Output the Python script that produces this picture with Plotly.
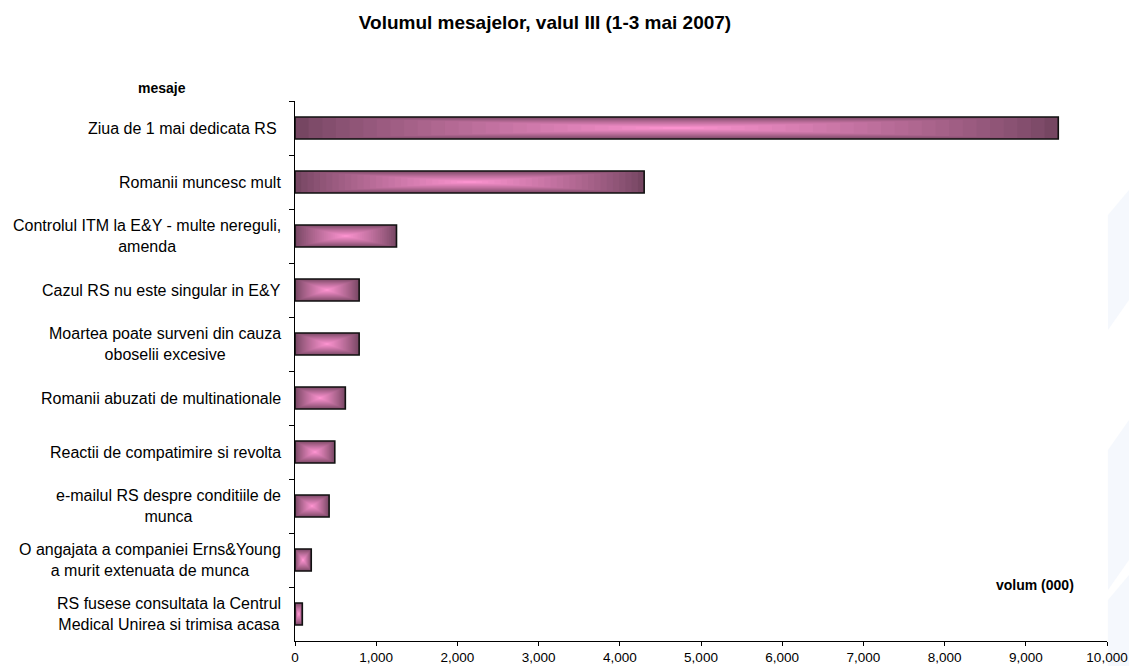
import plotly.graph_objects as go

# Message volume per topic (thousands), top to bottom
categories = [
    "Ziua de 1 mai dedicata RS ",
    "Romanii muncesc mult",
    "Controlul ITM la E&Y - multe nereguli,<br>amenda",
    "Cazul RS nu este singular in E&Y",
    "Moartea poate surveni din cauza<br>oboselii excesive",
    "Romanii abuzati de multinationale",
    "Reactii de compatimire si revolta",
    "e-mailul RS despre conditiile de<br>munca",
    "O angajata a companiei Erns&Young<br>a murit extenuata de munca",
    "RS fusese consultata la Centrul<br>Medical Unirea si trimisa acasa",
]
volumes = [9400, 4300, 1250, 790, 790, 620, 490, 420, 200, 90]

x_ticks = [0, 1000, 2000, 3000, 4000, 5000, 6000, 7000, 8000, 9000, 10000]

W, H = 1129, 666
L, R, T, B = 295, 22, 101, 25
FONT = "Liberation Sans, Arial, sans-serif"
EDGE = (118, 70, 98)
CENTER = (250, 146, 206)
BAR_W = 0.41
N_LAYERS = 28


def px_x(px):
    """Page pixel x -> paper fraction of the plot area."""
    return (px - L) / (W - L - R)


def px_y(py):
    """Page pixel y -> paper fraction of the plot area."""
    return (H - B - py) / (H - T - B)


fig = go.Figure()

# Concentric rectangles give a "from center" gradient fill on every bar
for i in range(N_LAYERS):
    s = 1 - i / N_LAYERS
    t = (i / (N_LAYERS - 1)) ** 0.85
    r, g, b = (round(EDGE[k] + (CENTER[k] - EDGE[k]) * t) for k in range(3))
    fig.add_trace(go.Bar(
        y=categories,
        x=[v * s for v in volumes],
        base=[v * (1 - s) / 2 for v in volumes],
        orientation="h",
        width=BAR_W * s,
        marker=dict(color=f"rgb({r},{g},{b})", line=dict(width=0)),
        showlegend=False,
        hoverinfo="skip",
    ))

# Outline drawn on top so the border stays crisp
fig.add_trace(go.Bar(
    y=categories,
    x=volumes,
    orientation="h",
    width=BAR_W,
    marker=dict(color="rgba(0,0,0,0)", line=dict(width=1.6, color="#111111")),
    showlegend=False,
    hoverinfo="skip",
))

# Category labels, centred multi-line text left of the axis
for cat in categories:
    fig.add_annotation(
        x=0, xref="paper", y=cat, yref="y",
        text=cat, showarrow=False,
        xanchor="right", yanchor="middle", align="center",
        xshift=-12,
        font=dict(family=FONT, size=16, color="#000000"),
    )

fig.add_annotation(
    x=px_x(162), y=px_y(88), xref="paper", yref="paper",
    text="<b>mesaje</b>", showarrow=False,
    xanchor="center", yanchor="middle",
    font=dict(family=FONT, size=14, color="#000000"),
)

fig.add_annotation(
    x=px_x(1035), y=px_y(585), xref="paper", yref="paper",
    text="<b>volum (000)</b>", showarrow=False,
    xanchor="center", yanchor="middle",
    font=dict(family=FONT, size=14, color="#000000"),
)

# Faint background swooshes along the right edge
for pts in [
    [(1108, 215), (1129, 190), (1129, 300), (1108, 330)],
    [(1108, 450), (1129, 420), (1129, 560), (1108, 590)],
    [(1108, 600), (1129, 575), (1129, 666), (1108, 666)],
]:
    path = "M " + " L ".join(f"{px_x(a):.4f} {px_y(b):.4f}" for a, b in pts) + " Z"
    fig.add_shape(type="path", path=path, xref="paper", yref="paper",
                  fillcolor="rgba(236,242,252,0.5)", line=dict(width=0),
                  layer="below")

fig.update_layout(
    width=W, height=H,
    margin=dict(l=L, r=R, t=T, b=B),
    paper_bgcolor="#ffffff",
    plot_bgcolor="rgba(0,0,0,0)",
    barmode="overlay",
    title=dict(
        text="<b>Volumul mesajelor, valul III (1-3 mai 2007)</b>",
        x=545 / W, xanchor="center", y=1 - 22 / H, yanchor="middle",
        font=dict(family=FONT, size=19, color="#000000"),
    ),
    xaxis=dict(
        range=[0, 10000],
        tickvals=x_ticks,
        tickformat=",",
        ticks="outside", ticklen=4, tickcolor="#000000", tickwidth=1,
        showline=True, linecolor="#000000", linewidth=1,
        showgrid=False, zeroline=False,
        tickfont=dict(family=FONT, size=13.5, color="#000000"),
        automargin=False,
        fixedrange=True,
    ),
    yaxis=dict(
        type="category",
        categoryorder="array", categoryarray=categories,
        autorange="reversed",
        tickson="boundaries",
        ticks="outside", ticklen=5, tickcolor="#000000", tickwidth=1,
        showticklabels=False,
        showline=True, linecolor="#000000", linewidth=1,
        showgrid=False, zeroline=False,
        automargin=False,
        fixedrange=True,
    ),
    showlegend=False,
)

fig.write_html("out.html")
